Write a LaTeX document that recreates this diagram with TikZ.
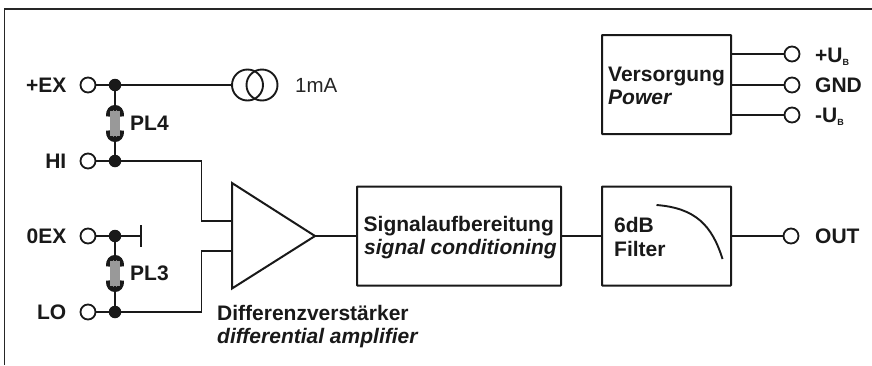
\documentclass[tikz,border=0pt]{standalone}
\usepackage{fontspec}
\setmainfont{Liberation Sans}
\tikzset{
  wire/.style={line width=1.6pt,draw=black!90},
  box/.style={line width=2pt,draw=black!90,rounded corners=0.5pt},
  term/.style={circle,draw=black!90,line width=1.8pt,fill=white,minimum size=15pt,inner sep=0pt},
  jdot/.style={circle,fill=black!90,minimum size=12.5pt,inner sep=0pt},
  lab/.style={font=\fontsize{21}{24}\selectfont\bfseries,text=black!90,inner sep=0pt},
  labi/.style={font=\fontsize{21}{24}\selectfont\bfseries\itshape,text=black!90,inner sep=0pt},
  src/.style={circle,draw=black!90,line width=1.9pt,minimum size=31pt,inner sep=0pt}
}
\newcommand{\jumper}[2]{%
  \draw[black!90,line width=5pt] (#1-6.5,#2-7) .. controls (#1-7.5,#2-19) and (#1+7.5,#2-19) .. (#1+6.5,#2-7);
  \draw[black!90,line width=5pt] (#1-6.5,#2+7) .. controls (#1-7.5,#2+19) and (#1+7.5,#2+19) .. (#1+6.5,#2+7);
  \fill[black!40] (#1-5,#2-12.5) rectangle (#1+5,#2+12.5);
}
\begin{document}
\begin{tikzpicture}[x=1pt,y=-1pt]
\useasboundingbox (0,0) rectangle (872,365);
\fill[white] (0,0) rectangle (872,365);
\coordinate (fa) at (4.5,365);
\coordinate (fb) at (4.5,9);
\coordinate (fc) at (872,9);
\draw[line width=1.2pt,black!85] (fa) -- (fb) -- (fc);

% terminals left
\node[term] (tex) at (88,85) {};
\node[term] (thi) at (88,161) {};
\node[term] (t0) at (88,236) {};
\node[term] (tlo) at (88,312) {};
\node[jdot] (dex) at (115,85) {};
\node[jdot] (dhi) at (115,161) {};
\node[jdot] (d0) at (115,236) {};
\node[jdot] (dlo) at (115,312) {};
\draw[wire] (tex) -- (dex);
\draw[wire] (thi) -- (dhi);
\draw[wire] (t0) -- (d0);
\draw[wire] (tlo) -- (dlo);
\draw[wire] (dex) -- (dhi);
\draw[wire] (d0) -- (dlo);
\jumper{115}{123.5}
\jumper{115}{273.5}
\node[lab,anchor=base west] (pl4) at (130,130) {PL4};
\node[lab,anchor=base west] (pl3) at (130,280.5) {PL3};
\node[lab,anchor=base east] (lex) at (66.5,92.5) {+EX};
\node[lab,anchor=base east] (lhi) at (66.5,168.5) {HI};
\node[lab,anchor=base east] (l0) at (66.5,243.5) {0EX};
\node[lab,anchor=base east] (llo) at (66.5,319.5) {LO};

% current source
\node[src] (s1) at (247.5,85) {};
\node[src] (s2) at (262,85) {};
\draw[wire] (dex) -- (s1);
\node[anchor=base west,inner sep=0pt,font=\fontsize{20.5}{22}\selectfont,text=black!85] (ma) at (295,92.5) {1mA};

% ground
\coordinate (g) at (141,236);
\draw[wire] (d0) -- (g);
\draw[line width=2pt,black!90] (141,225) -- (141,247);

% amplifier
\coordinate (a1) at (232,183);
\coordinate (a2) at (315,236);
\coordinate (a3) at (232,288.5);
\coordinate (ain1) at (232,221);
\coordinate (ain2) at (232,251);
\draw[box,rounded corners=0pt,line join=miter] (a1) -- (a2) -- (a3) -- cycle;
\draw[wire] (dhi) -| (201.5,221) -- (ain1);
\draw[wire] (dlo) -| (201.5,251) -- (ain2);
\node[lab,anchor=base west] (d1) at (217,320.5) {Differenzverstärker};
\node[labi,anchor=base west] (d2) at (217,343.5) {differential amplifier};

% signal conditioning
\draw[box] (357,186.5) rectangle (561,285.5);
\coordinate (sl) at (357,236);
\coordinate (sr) at (561,236);
\draw[wire] (a2) -- (sl);
\node[lab,anchor=base west] (s1t) at (363.5,231) {Signalaufbereitung};
\node[labi,anchor=base west] (s2t) at (364,254) {signal conditioning};

% filter
\draw[box] (602,186.5) rectangle (731,285.5);
\coordinate (fl) at (602,236);
\coordinate (fr) at (731,236);
\draw[wire] (sr) -- (fl);
\node[term] (tout) at (791,236) {};
\draw[wire] (fr) -- (tout);
\node[lab,anchor=base west] (lout) at (815,243.5) {OUT};
\node[lab,anchor=base west] (f1) at (614,232) {6dB};
\node[lab,anchor=base west] (f2) at (614,256) {Filter};
\draw[line width=1.9pt,black!90] (656.5,205) .. controls (695,208) and (712,225) .. (722.5,259);

% power
\draw[box] (602,35) rectangle (731,134);
\node[lab,anchor=base west] (p1) at (608,81.5) {Versorgung};
\node[labi,anchor=base west] (p2) at (608,104) {Power};
\node[term] (tp) at (792,54) {};
\node[term] (tg) at (792,85) {};
\node[term] (tm) at (792,115) {};
\coordinate (pa) at (731,54);
\coordinate (pb) at (731,85);
\coordinate (pc) at (731,115);
\draw[wire] (pa) -- (tp);
\draw[wire] (pb) -- (tg);
\draw[wire] (pc) -- (tm);
\node[lab,anchor=base west] (lp) at (815,62) {+U\raisebox{-3pt}{\fontsize{9}{9}\selectfont B}};
\node[lab,anchor=base west] (lg) at (815,92.5) {GND};
\node[lab,anchor=base west] (lm) at (815,122.5) {-U\raisebox{-3pt}{\fontsize{9}{9}\selectfont B}};
\end{tikzpicture}
\end{document}
